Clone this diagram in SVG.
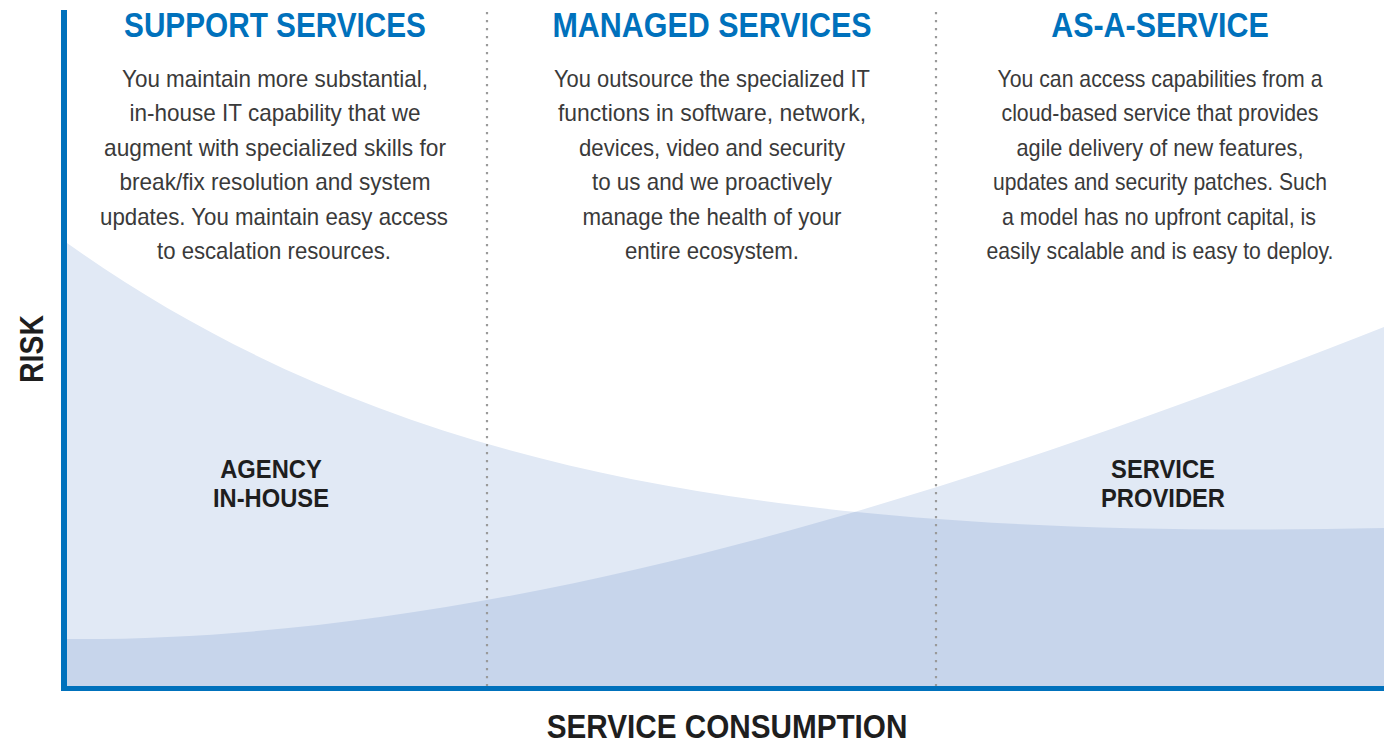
<svg xmlns="http://www.w3.org/2000/svg" width="1384" height="747" viewBox="0 0 1384 747">
<style>
.hdr{font-family:"Liberation Sans",Arial,sans-serif;font-weight:bold;font-size:35px;fill:#0071BC;text-anchor:middle}
.body{font-family:"Liberation Sans",Arial,sans-serif;font-size:24px;fill:#3A3A3A;text-anchor:middle}
.lbl{font-family:"Liberation Sans",Arial,sans-serif;font-weight:bold;font-size:25px;fill:#1E1E1E;text-anchor:middle}
.axl{font-family:"Liberation Sans",Arial,sans-serif;font-weight:bold;font-size:33px;fill:#1E1E1E;text-anchor:middle}
.dot{stroke:#9A9A9A;stroke-width:2.2;stroke-dasharray:2.2 5.8;fill:none}
</style>
<defs>
<path id="curveA" d="M67,243 C400,480 800,540 1384,528 L1384,686 L67,686 Z"/>
<path id="curveB" d="M67,639 C520,642 1000,478 1384,327 L1384,686 L67,686 Z"/>
<clipPath id="clipA"><use href="#curveA"/></clipPath>
</defs>
<rect width="1384" height="747" fill="#FFFFFF"/>
<g id="areas">
<use href="#curveA" fill="#E1E9F5"/>
<use href="#curveB" fill="#E1E9F5"/>
<use href="#curveB" fill="#C7D5EB" clip-path="url(#clipA)"/>
</g>
<g id="connectors">
<line class="dot" x1="487" y1="12" x2="487" y2="686"/>
<line class="dot" x1="936" y1="12" x2="936" y2="686"/>
<rect x="61" y="10" width="6" height="681" fill="#0071BC"/>
<rect x="61" y="686" width="1323" height="5" fill="#0071BC"/>
</g>
<g id="support-services" transform="translate(275,0) scale(0.85,1)">
<text class="hdr" x="0" y="37">SUPPORT SERVICES</text>
</g>
<g id="support-text">
<text class="body" x="275" y="87" textLength="306" lengthAdjust="spacingAndGlyphs">You maintain more substantial,</text>
<text class="body" x="275" y="121" textLength="291" lengthAdjust="spacingAndGlyphs">in-house IT capability that we</text>
<text class="body" x="275" y="156" textLength="342" lengthAdjust="spacingAndGlyphs">augment with specialized skills for</text>
<text class="body" x="275" y="190" textLength="311" lengthAdjust="spacingAndGlyphs">break/fix resolution and system</text>
<text class="body" x="274" y="225" textLength="348" lengthAdjust="spacingAndGlyphs">updates. You maintain easy access</text>
<text class="body" x="274" y="259" textLength="234" lengthAdjust="spacingAndGlyphs">to escalation resources.</text>
</g>
<g id="managed-services" transform="translate(712,0) scale(0.87,1)">
<text class="hdr" x="0" y="37">MANAGED SERVICES</text>
</g>
<g id="managed-text">
<text class="body" x="712" y="87" textLength="316" lengthAdjust="spacingAndGlyphs">You outsource the specialized IT</text>
<text class="body" x="712" y="121" textLength="308" lengthAdjust="spacingAndGlyphs">functions in software, network,</text>
<text class="body" x="712" y="156" textLength="266" lengthAdjust="spacingAndGlyphs">devices, video and security</text>
<text class="body" x="712" y="190" textLength="240" lengthAdjust="spacingAndGlyphs">to us and we proactively</text>
<text class="body" x="712" y="225" textLength="259" lengthAdjust="spacingAndGlyphs">manage the health of your</text>
<text class="body" x="712" y="259" textLength="174" lengthAdjust="spacingAndGlyphs">entire ecosystem.</text>
</g>
<g id="as-a-service" transform="translate(1160,0) scale(0.87,1)">
<text class="hdr" x="0" y="37">AS-A-SERVICE</text>
</g>
<g id="as-a-service-text">
<text class="body" x="1160" y="87" textLength="325" lengthAdjust="spacingAndGlyphs">You can access capabilities from a</text>
<text class="body" x="1160" y="121" textLength="317" lengthAdjust="spacingAndGlyphs">cloud-based service that provides</text>
<text class="body" x="1160" y="156" textLength="287" lengthAdjust="spacingAndGlyphs">agile delivery of new features,</text>
<text class="body" x="1160" y="190" textLength="334" lengthAdjust="spacingAndGlyphs">updates and security patches. Such</text>
<text class="body" x="1159" y="225" textLength="314" lengthAdjust="spacingAndGlyphs">a model has no upfront capital, is</text>
<text class="body" x="1160" y="259" textLength="347" lengthAdjust="spacingAndGlyphs">easily scalable and is easy to deploy.</text>
</g>
<g id="agency-in-house" transform="translate(271,0) scale(0.95,1)">
<text class="lbl" x="0" y="478">AGENCY</text>
<text class="lbl" x="0" y="507">IN-HOUSE</text>
</g>
<g id="service-provider" transform="translate(1163,0) scale(0.95,1)">
<text class="lbl" x="0" y="478">SERVICE</text>
<text class="lbl" x="0" y="507">PROVIDER</text>
</g>
<g id="axis-x-label" transform="translate(727,0) scale(0.9,1)">
<text class="axl" x="0" y="738">SERVICE CONSUMPTION</text>
</g>
<g id="axis-y-label" transform="translate(43,349) rotate(-90) scale(0.86,1)">
<text class="axl" x="0" y="0">RISK</text>
</g>
</svg>
